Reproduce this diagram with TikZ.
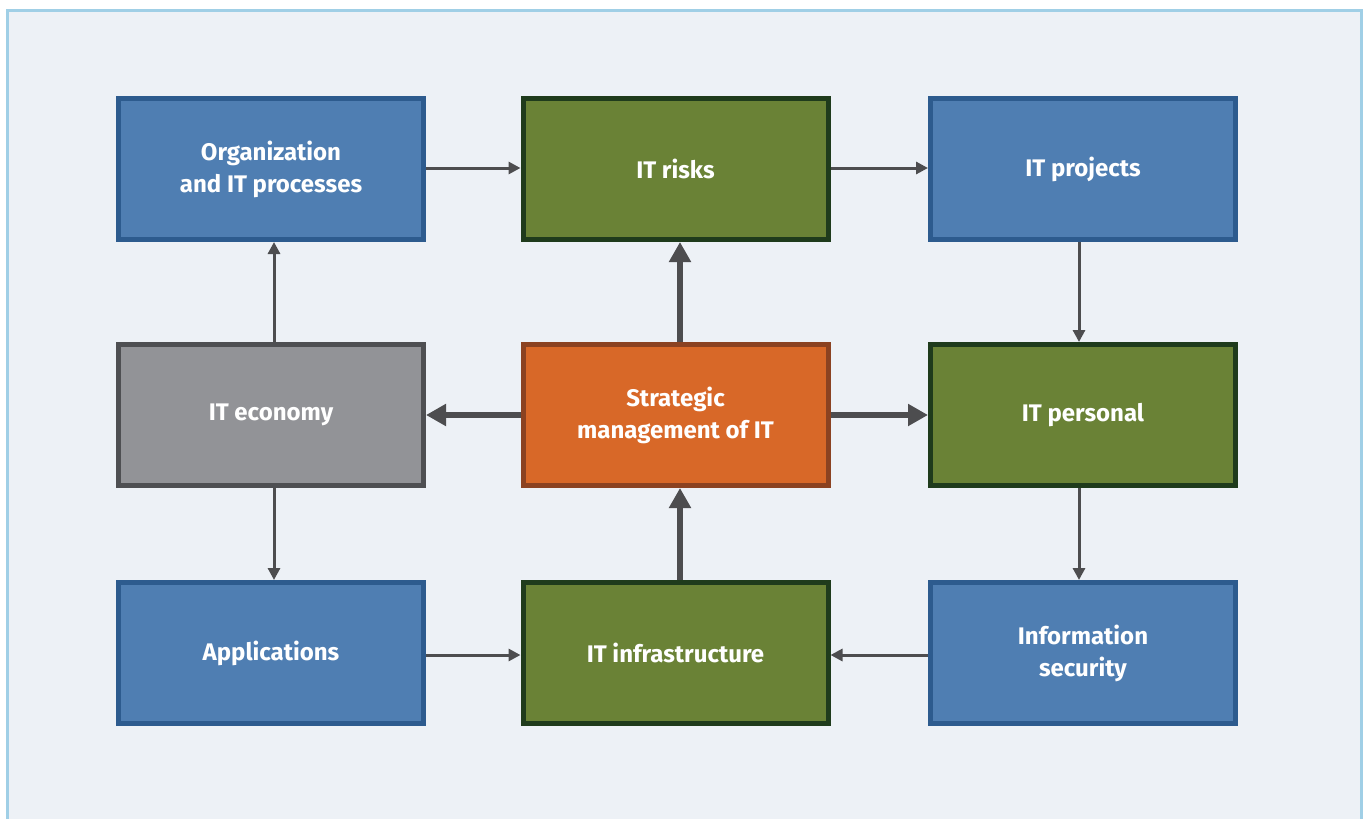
\documentclass[tikz,border=0pt]{standalone}
\usepackage{fontspec}
\setmainfont{Fira Sans}
\usetikzlibrary{arrows.meta}

\definecolor{pagebg}{HTML}{EDF1F6}
\definecolor{frameline}{HTML}{A0CFE6}
\definecolor{blfill}{HTML}{4F7EB2}
\definecolor{blline}{HTML}{2D5B8E}
\definecolor{grfill}{HTML}{6A8236}
\definecolor{grline}{HTML}{1F3B1C}
\definecolor{orfill}{HTML}{D86828}
\definecolor{orline}{HTML}{8B4221}
\definecolor{gyfill}{HTML}{929397}
\definecolor{gyline}{HTML}{4E4F52}
\definecolor{arrowgray}{HTML}{4D4D4F}

\begin{document}
\begin{tikzpicture}[x=1pt, y=-1pt,
    box/.style={draw, line width=5pt, minimum width=305pt, minimum height=141pt,
      inner sep=0pt, text=white, align=center,
      font=\fontsize{24}{32}\selectfont\bfseries},
    bluebox/.style={box, fill=blfill, draw=blline},
    greenbox/.style={box, fill=grfill, draw=grline},
    orangebox/.style={box, fill=orfill, draw=orline},
    graybox/.style={box, fill=gyfill, draw=gyline},
    flowarrow/.style={draw=arrowgray, line width=3pt, -{Triangle[length=12pt, width=12pt]}},
    mainarrow/.style={draw=arrowgray, line width=6pt, -{Triangle[length=20pt, width=21pt]}}]

    % page and frame
    \useasboundingbox (0,0) rectangle (1363,819);
    \fill[white] (0,0) rectangle (1363,819);
    \fill[pagebg] (7.5,10.5) rectangle (1361,819);
    \draw[frameline, line width=3pt] (7.5,819) -- (7.5,10.5) -- (1361,10.5) -- (1361,819);

    % top row
    \node[bluebox]  (org)      at (271,169)   {Organization\\and IT processes};
    \node[greenbox] (risks)    at (675.5,169) {IT risks};
    \node[bluebox]  (projects) at (1083,169)  {IT projects};

    % middle row
    \node[graybox]   (economy)   at (271,415)   {IT economy};
    \node[orangebox] (strategic) at (675.5,415) {Strategic\\management of IT};
    \node[greenbox]  (personal)  at (1083,415)  {IT personal};

    % bottom row
    \node[bluebox]  (apps)     at (271,653)   {Applications};
    \node[greenbox] (infra)    at (675.5,653) {IT infrastructure};
    \node[bluebox]  (security) at (1083,653)  {Information\\security};

    % thin flow arrows
    \draw[flowarrow] ([yshift=1pt]org.east) -- ([yshift=1pt]risks.west);
    \draw[flowarrow] ([yshift=1pt]risks.east) -- ([yshift=1pt]projects.west);
    \draw[flowarrow] ([xshift=-4pt]projects.south) -- ([xshift=-4pt]personal.north);
    \draw[flowarrow] ([xshift=-4pt]personal.south) -- ([xshift=-4pt]security.north);
    \draw[flowarrow] ([yshift=-2pt]security.west) -- ([yshift=-2pt]infra.east);
    \draw[flowarrow] ([yshift=-2pt]apps.east) -- ([yshift=-2pt]infra.west);
    \draw[flowarrow] ([xshift=3pt]economy.north) -- ([xshift=3pt]org.south);
    \draw[flowarrow] ([xshift=3pt]economy.south) -- ([xshift=3pt]apps.north);

    % thick arrows from and to the centre
    \draw[mainarrow] ([xshift=4.5pt]strategic.north) -- ([xshift=4.5pt]risks.south);
    \draw[mainarrow] (strategic.west) -- (economy.east);
    \draw[mainarrow] (strategic.east) -- (personal.west);
    \draw[mainarrow] ([xshift=4.5pt]infra.north) -- ([xshift=4.5pt]strategic.south);
\end{tikzpicture}
\end{document}
